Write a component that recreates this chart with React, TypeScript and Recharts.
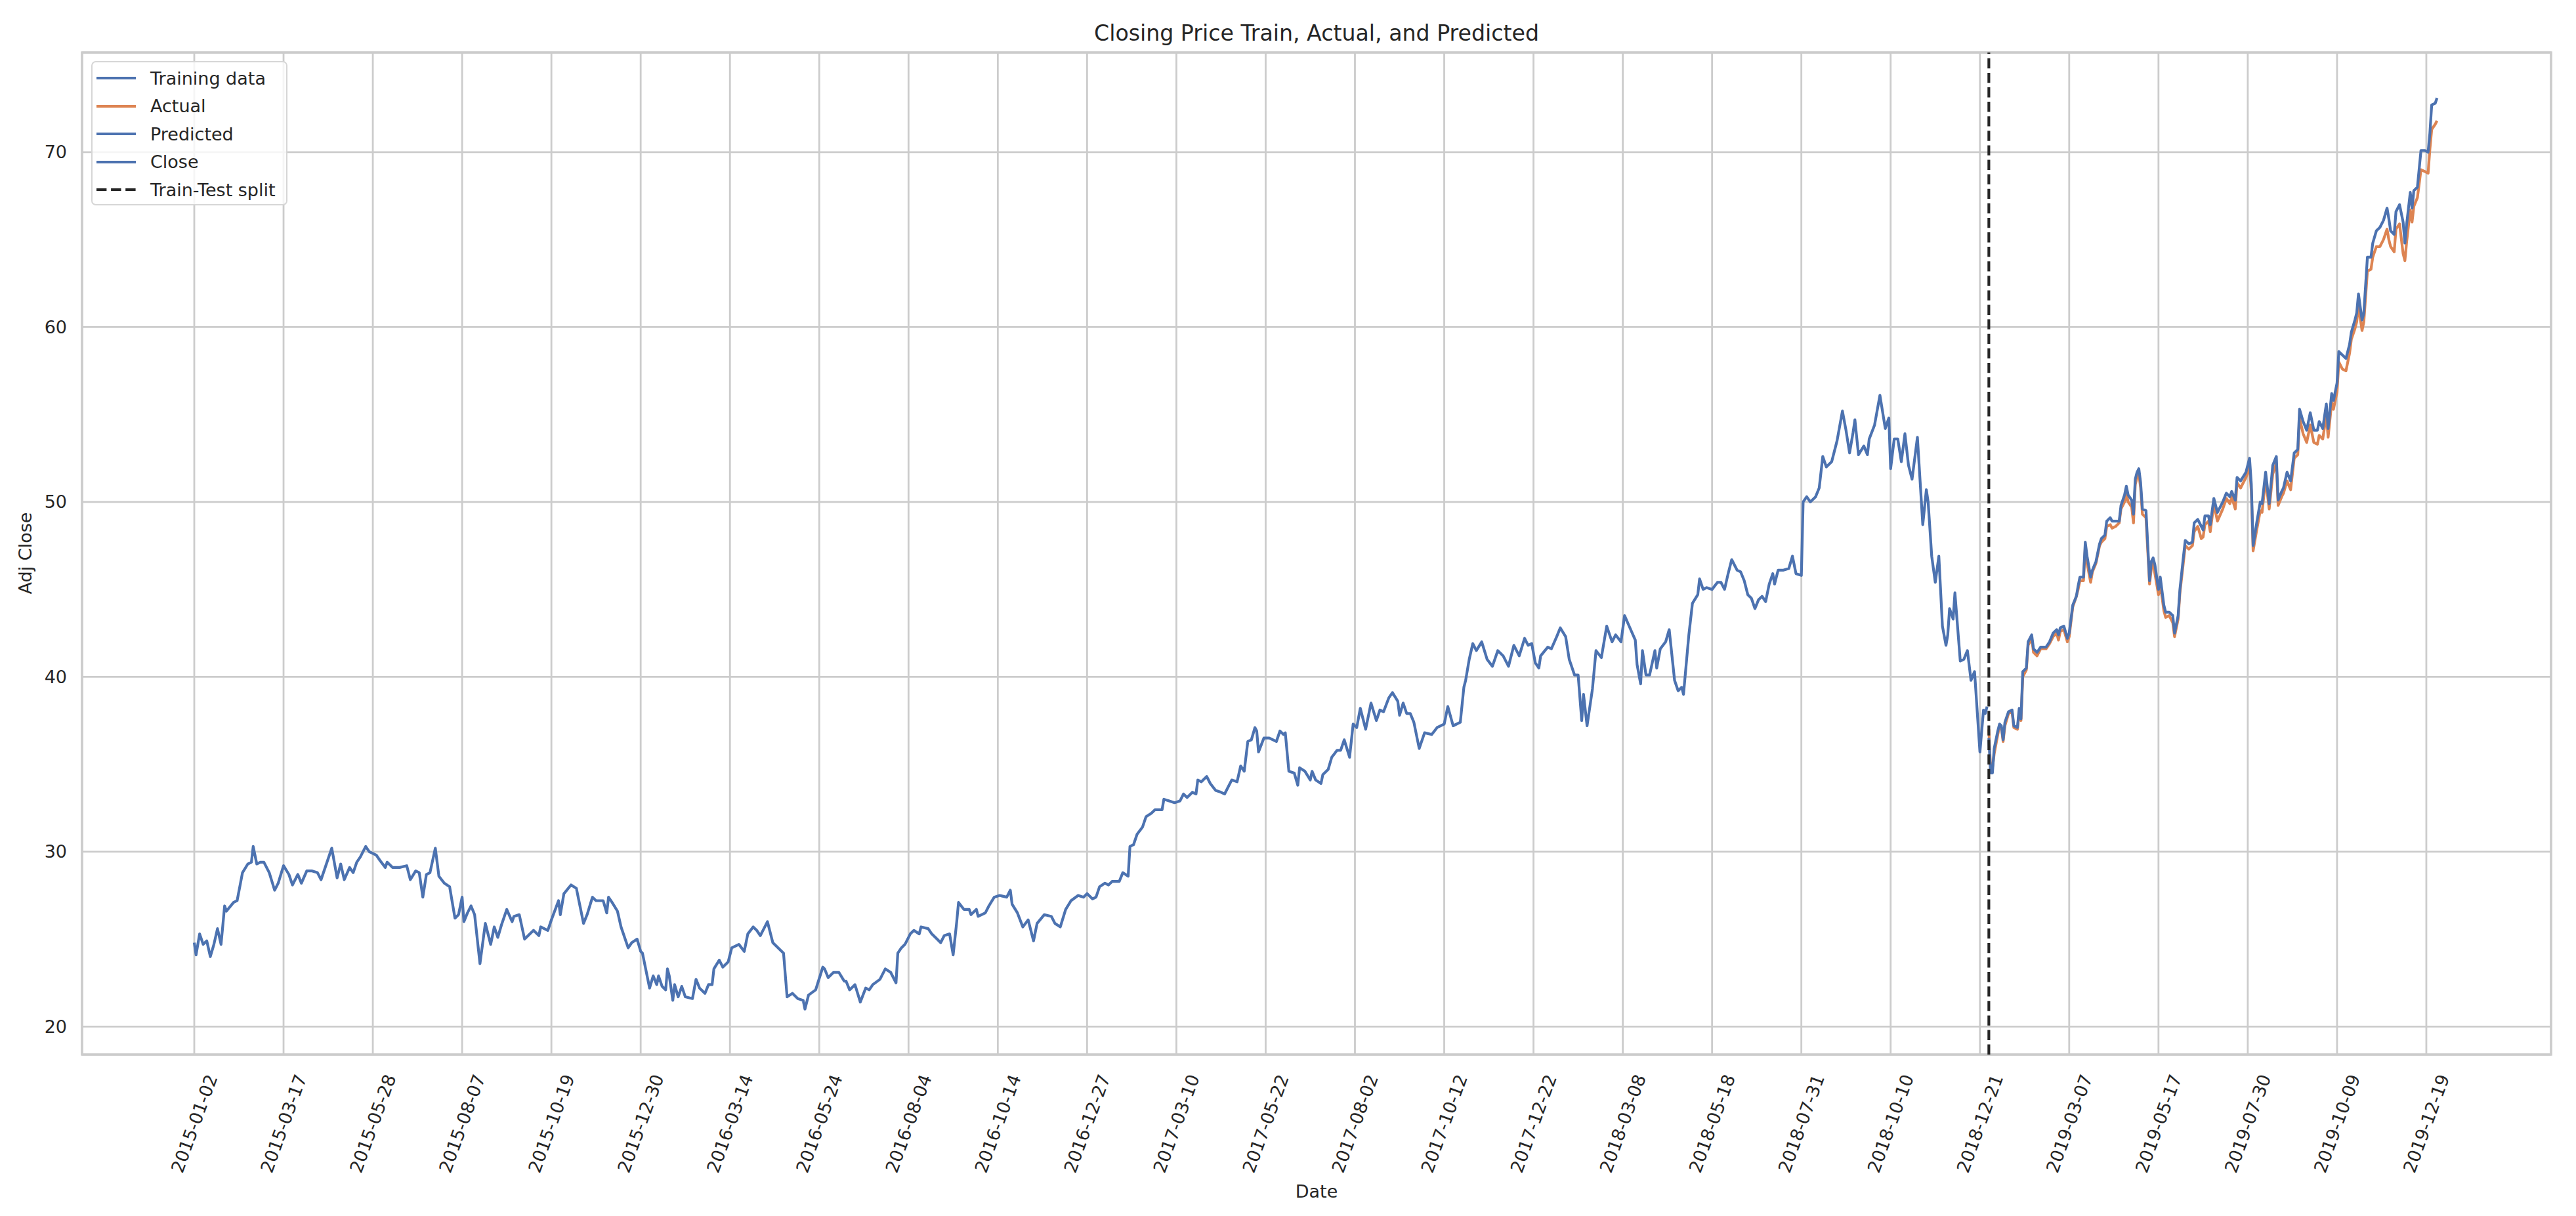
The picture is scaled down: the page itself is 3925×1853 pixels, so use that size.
import React from "react";
import {
  CartesianGrid,
  Line,
  LineChart,
  ReferenceArea,
  ReferenceLine,
  XAxis,
  YAxis,
} from "recharts";

// trading-day index -> close
const trainingData: [number, number][] = [
  [0, 24.8], [1, 24.1], [3, 25.3], [5, 24.7], [7, 24.9], [9, 24.0], [11, 24.7], [13, 25.6], [15, 24.7],
  [17, 26.9], [18, 26.6], [22, 27.1], [24, 27.2], [27, 28.8], [30, 29.3], [32, 29.4], [33, 30.3], [35, 29.3],
  [37, 29.4], [39, 29.4], [42, 28.8], [45, 27.8], [47, 28.2], [50, 29.2], [53, 28.7], [55, 28.1], [58, 28.7],
  [60, 28.2], [63, 28.9], [66, 28.9], [69, 28.8], [71, 28.4], [73, 29.0], [77, 30.2], [80, 28.5], [82, 29.3],
  [84, 28.4], [87, 29.1], [89, 28.8], [91, 29.4], [93, 29.7], [96, 30.3], [98, 30.0], [102, 29.8], [104, 29.5],
  [107, 29.1], [108, 29.4], [111, 29.1], [115, 29.1], [119, 29.2], [121, 28.4], [124, 28.9], [126, 28.8],
  [128, 27.4], [130, 28.7], [132, 28.8], [135, 30.2], [137, 28.6], [140, 28.2], [143, 28.0], [146, 26.2],
  [148, 26.4], [150, 27.4], [151, 26.0], [153, 26.5], [155, 26.9], [157, 26.4], [160, 23.6], [163, 25.9],
  [166, 24.7], [168, 25.7], [170, 25.1], [172, 25.8], [175, 26.7], [178, 26.0], [179, 26.3], [182, 26.4],
  [185, 25.0], [188, 25.3], [190, 25.5], [193, 25.2], [194, 25.7], [198, 25.5], [200, 26.1], [204, 27.2],
  [205, 26.4], [207, 27.6], [211, 28.1], [214, 27.9], [216, 26.9], [218, 25.9], [220, 26.4], [223, 27.4],
  [225, 27.2], [229, 27.2], [231, 26.5], [232, 27.4], [234, 27.1], [237, 26.6], [239, 25.7], [243, 24.5],
  [245, 24.8], [248, 25.0], [250, 24.3], [251, 24.2], [255, 22.2], [257, 22.9], [259, 22.4], [260, 22.9],
  [262, 22.3], [264, 22.1], [265, 23.3], [266, 22.9], [268, 21.5], [269, 22.4], [271, 21.7], [273, 22.3],
  [275, 21.7], [279, 21.6], [281, 22.7], [283, 22.2], [286, 21.9], [288, 22.4], [290, 22.4], [291, 23.3],
  [294, 23.8], [296, 23.4], [299, 23.7], [301, 24.5], [305, 24.7], [308, 24.3], [310, 25.3], [313, 25.7],
  [315, 25.5], [317, 25.2], [319, 25.6], [321, 26.0], [324, 24.8], [327, 24.5], [330, 24.2], [332, 21.7],
  [335, 21.9], [338, 21.6], [341, 21.5], [342, 21.0], [344, 21.8], [348, 22.1], [352, 23.4], [353, 23.3],
  [355, 22.8], [358, 23.1], [361, 23.1], [364, 22.6], [365, 22.6], [367, 22.1], [370, 22.4], [373, 21.4],
  [376, 22.2], [378, 22.1], [380, 22.4], [384, 22.7], [387, 23.3], [390, 23.1], [393, 22.5], [394, 24.2],
  [396, 24.5], [398, 24.7], [401, 25.3], [403, 25.5], [406, 25.3], [407, 25.7], [411, 25.6], [413, 25.3],
  [416, 25.0], [418, 24.8], [420, 25.2], [423, 25.3], [425, 24.1], [427, 26.0], [428, 27.1], [431, 26.7],
  [434, 26.7], [435, 26.4], [438, 26.7], [439, 26.3], [443, 26.5], [445, 26.9], [448, 27.4], [451, 27.5],
  [455, 27.4], [457, 27.8], [458, 27.0], [461, 26.5], [464, 25.7], [467, 26.1], [470, 24.9], [472, 25.9],
  [476, 26.4], [480, 26.3], [482, 25.9], [485, 25.7], [488, 26.7], [491, 27.2], [495, 27.5], [498, 27.4],
  [500, 27.6], [503, 27.3], [505, 27.4], [507, 28.0], [510, 28.2], [512, 28.1], [514, 28.3], [518, 28.3],
  [520, 28.8], [523, 28.6], [524, 30.3], [526, 30.4], [528, 31.0], [531, 31.4], [533, 32.0], [536, 32.2],
  [538, 32.4], [542, 32.4], [543, 33.0], [546, 32.9], [549, 32.8], [552, 32.9], [554, 33.3], [556, 33.1],
  [559, 33.4], [561, 33.3], [562, 34.1], [564, 34.0], [567, 34.3], [569, 33.9], [572, 33.5], [575, 33.4],
  [577, 33.3], [579, 33.7], [581, 34.1], [584, 34.0], [586, 34.9], [588, 34.6], [590, 36.3], [592, 36.4],
  [594, 37.1], [595, 36.9], [596, 35.7], [599, 36.5], [602, 36.5], [606, 36.3], [608, 36.9], [610, 36.7],
  [611, 36.8], [613, 34.6], [616, 34.5], [618, 33.8], [619, 34.8], [622, 34.6], [625, 34.1], [626, 34.6],
  [628, 34.1], [631, 33.9], [632, 34.4], [635, 34.7], [637, 35.4], [640, 35.8], [642, 35.8], [644, 36.4],
  [647, 35.4], [649, 37.3], [651, 37.1], [653, 38.2], [656, 37.0], [659, 38.5], [662, 37.5], [664, 38.1],
  [666, 38.0], [669, 38.8], [671, 39.1], [674, 38.6], [675, 37.8], [677, 38.5], [679, 37.9], [681, 37.9],
  [683, 37.4], [686, 35.9], [689, 36.8], [693, 36.7], [696, 37.1], [700, 37.3], [702, 38.3], [705, 37.2],
  [709, 37.4], [711, 39.4], [712, 39.8], [714, 41.0], [716, 41.9], [718, 41.5], [721, 42.0], [724, 41.0],
  [727, 40.6], [730, 41.5], [733, 41.2], [736, 40.6], [739, 41.8], [742, 41.2], [745, 42.2], [747, 41.8],
  [749, 41.9], [751, 40.8], [753, 40.5], [754, 41.2], [758, 41.7], [760, 41.6], [763, 42.3], [765, 42.8],
  [768, 42.3], [770, 41.0], [773, 40.1], [775, 40.1], [777, 37.5], [778, 39.0], [780, 37.2], [783, 39.3],
  [785, 41.5], [788, 41.1], [791, 42.9], [794, 42.0], [796, 42.4], [799, 42.0], [801, 43.5], [804, 42.8],
  [807, 42.1], [808, 40.7], [810, 39.6], [811, 41.5], [813, 40.1], [815, 40.1], [818, 41.5], [819, 40.5],
  [821, 41.6], [824, 42.0], [826, 42.7], [829, 39.8], [831, 39.2], [833, 39.4], [834, 39.0], [837, 42.4],
  [839, 44.2], [842, 44.7], [843, 45.6], [845, 45.0], [847, 45.1], [850, 45.0], [853, 45.4], [855, 45.4],
  [857, 45.0], [859, 45.9], [861, 46.7], [864, 46.1], [866, 46.0], [868, 45.5], [870, 44.7], [872, 44.5],
  [874, 43.9], [876, 44.4], [878, 44.6], [880, 44.3], [882, 45.3], [884, 45.9], [885, 45.3], [887, 46.1],
  [890, 46.1], [893, 46.2], [895, 46.9], [897, 45.9], [900, 45.8], [901, 50.0], [903, 50.3], [905, 50.0],
  [908, 50.3], [910, 50.8], [912, 52.6], [914, 52.0], [917, 52.3], [920, 53.5], [923, 55.2], [925, 54.1],
  [927, 52.8], [929, 54.0], [930, 54.7], [932, 52.7], [935, 53.2], [937, 52.7], [938, 53.6], [941, 54.4],
  [944, 56.1], [947, 54.2], [949, 54.8], [950, 51.9], [952, 53.6], [954, 53.6], [956, 52.3], [958, 53.9],
  [960, 52.1], [962, 51.3], [965, 53.7], [968, 48.7], [970, 50.7], [971, 50.0], [973, 46.9], [975, 45.4],
  [977, 46.9], [979, 42.9], [981, 41.8], [982, 42.4], [983, 43.9], [985, 43.3], [986, 44.8], [989, 40.9],
  [991, 41.0], [993, 41.5], [995, 39.8], [997, 40.3], [1000, 35.7], [1002, 38.1], [1003, 37.9], [1004, 38.3],
];

const actualData: [number, number][] = [
  [1005, 37.0], [1006, 34.6], [1007, 34.8], [1008, 35.6], [1010, 36.7], [1011, 37.2], [1012, 37.1], [1013, 36.3],
  [1014, 37.2], [1016, 37.9], [1018, 38.0], [1019, 37.1], [1021, 37.0], [1022, 38.0], [1023, 37.5], [1024, 40.0],
  [1026, 40.4], [1027, 41.8], [1029, 42.2], [1030, 41.4], [1032, 41.2], [1034, 41.6], [1037, 41.6], [1039, 41.9],
  [1041, 42.3], [1043, 42.5], [1044, 42.1], [1045, 42.6], [1047, 42.7], [1049, 42.0], [1050, 42.3], [1052, 44.0],
  [1054, 44.6], [1055, 45.0], [1056, 45.5], [1058, 45.5], [1059, 47.4], [1060, 46.5], [1062, 45.4], [1063, 46.0],
  [1065, 46.5], [1067, 47.5], [1068, 47.7], [1070, 47.9], [1071, 48.6], [1073, 48.7], [1074, 48.5], [1076, 48.6],
  [1078, 48.8], [1079, 49.6], [1081, 50.0], [1082, 50.5], [1083, 50.0], [1085, 49.7], [1086, 48.8], [1087, 51.0],
  [1088, 51.4], [1089, 51.6], [1090, 50.8], [1091, 49.3], [1093, 49.1], [1095, 45.3], [1096, 46.2], [1097, 46.5],
  [1098, 45.9], [1100, 44.7], [1101, 45.3], [1103, 43.8], [1104, 43.4], [1106, 43.5], [1108, 43.1], [1109, 42.3],
  [1111, 43.3], [1112, 44.8], [1114, 46.6], [1115, 47.5], [1117, 47.3], [1119, 47.5], [1120, 48.3], [1122, 48.6],
  [1124, 47.9], [1125, 48.0], [1126, 48.7], [1128, 48.9], [1129, 48.3], [1131, 49.9], [1133, 48.9], [1136, 49.6],
  [1138, 50.2], [1140, 49.9], [1141, 50.3], [1143, 49.6], [1144, 51.1], [1146, 50.8], [1149, 51.4], [1151, 52.0],
  [1152, 50.6], [1153, 47.2], [1155, 48.4], [1157, 49.5], [1158, 49.4], [1160, 51.3], [1162, 49.6], [1164, 51.6],
  [1166, 52.2], [1167, 49.8], [1169, 50.3], [1170, 50.5], [1172, 51.2], [1174, 50.7], [1176, 52.5], [1178, 52.7],
  [1179, 54.8], [1181, 53.9], [1183, 53.4], [1185, 54.4], [1187, 53.4], [1189, 53.3], [1190, 53.8], [1192, 53.6],
  [1194, 55.0], [1195, 53.7], [1197, 55.7], [1198, 55.3], [1200, 56.3], [1201, 58.0], [1203, 57.6], [1205, 57.5],
  [1207, 58.5], [1208, 59.3], [1210, 59.9], [1211, 60.3], [1212, 61.2], [1214, 59.8], [1215, 60.3], [1217, 63.2],
  [1219, 63.3], [1220, 64.0], [1222, 64.6], [1224, 64.6], [1226, 65.0], [1228, 65.6], [1229, 65.0], [1230, 64.6],
  [1232, 64.3], [1233, 65.6], [1235, 65.9], [1237, 64.2], [1238, 63.8], [1239, 64.9], [1241, 66.7], [1242, 66.0],
  [1243, 66.9], [1245, 67.4], [1247, 69.0], [1249, 68.9], [1251, 68.8], [1252, 70.2], [1253, 71.3], [1255, 71.6],
  [1256, 71.8],
];

const predictedData: [number, number][] = [
  [1005, 36.5], [1006, 34.5], [1007, 34.5], [1008, 35.9], [1010, 36.9], [1011, 37.3], [1012, 37.2], [1013, 36.4],
  [1014, 37.4], [1016, 38.0], [1018, 38.1], [1019, 37.2], [1021, 37.1], [1022, 38.2], [1023, 37.6], [1024, 40.3],
  [1026, 40.5], [1027, 42.0], [1029, 42.4], [1030, 41.6], [1032, 41.4], [1034, 41.7], [1037, 41.7], [1039, 42.0],
  [1041, 42.5], [1043, 42.7], [1044, 42.4], [1045, 42.8], [1047, 42.9], [1049, 42.2], [1050, 42.5], [1052, 44.1],
  [1054, 44.6], [1055, 45.2], [1056, 45.7], [1058, 45.7], [1059, 47.7], [1060, 46.9], [1062, 45.7], [1063, 46.1],
  [1065, 46.6], [1067, 47.6], [1068, 47.9], [1070, 48.1], [1071, 48.9], [1073, 49.1], [1074, 48.9], [1076, 48.9],
  [1078, 48.9], [1079, 49.8], [1081, 50.4], [1082, 50.9], [1083, 50.4], [1085, 50.1], [1086, 49.3], [1087, 51.3],
  [1088, 51.7], [1089, 51.9], [1090, 51.1], [1091, 49.6], [1093, 49.5], [1095, 45.5], [1096, 46.6], [1097, 46.8],
  [1098, 46.4], [1100, 45.0], [1101, 45.7], [1103, 44.1], [1104, 43.7], [1106, 43.7], [1108, 43.5], [1109, 42.5],
  [1111, 43.5], [1112, 45.0], [1114, 46.9], [1115, 47.8], [1117, 47.6], [1119, 47.7], [1120, 48.8], [1122, 49.0],
  [1124, 48.6], [1125, 48.4], [1126, 49.2], [1128, 49.2], [1129, 48.7], [1131, 50.2], [1133, 49.4], [1136, 50.0],
  [1138, 50.5], [1140, 50.3], [1141, 50.6], [1143, 50.1], [1144, 51.4], [1146, 51.2], [1149, 51.7], [1151, 52.5],
  [1152, 51.0], [1153, 47.5], [1155, 48.8], [1157, 50.0], [1158, 49.9], [1160, 51.7], [1162, 49.9], [1164, 52.1],
  [1166, 52.6], [1167, 50.1], [1169, 50.6], [1170, 50.8], [1172, 51.7], [1174, 51.2], [1176, 52.8], [1178, 53.0],
  [1179, 55.3], [1181, 54.6], [1183, 54.1], [1185, 55.1], [1187, 54.1], [1189, 54.1], [1190, 54.6], [1192, 54.2],
  [1194, 55.6], [1195, 54.2], [1197, 56.2], [1198, 55.8], [1200, 56.8], [1201, 58.6], [1203, 58.4], [1205, 58.2],
  [1207, 59.0], [1208, 59.7], [1210, 60.4], [1211, 60.8], [1212, 61.9], [1214, 60.4], [1215, 60.8], [1217, 64.0],
  [1219, 64.0], [1220, 64.8], [1222, 65.5], [1224, 65.7], [1226, 66.1], [1228, 66.8], [1229, 66.2], [1230, 65.5],
  [1232, 65.3], [1233, 66.6], [1235, 67.0], [1237, 66.0], [1238, 64.8], [1239, 65.9], [1241, 67.7], [1242, 66.8],
  [1243, 67.8], [1245, 68.0], [1247, 70.1], [1249, 70.1], [1251, 70.0], [1252, 71.1], [1253, 72.7], [1255, 72.8],
  [1256, 73.1],
];

const splitDay = 1005;

const tickDays = [
  0, 50, 100, 150, 200, 250, 300, 350, 400, 450, 500, 550, 600, 650, 700, 750, 800, 850, 900, 950, 1000,
  1050, 1100, 1150, 1200, 1250,
];
const tickLabels = [
  "2015-01-02", "2015-03-17", "2015-05-28", "2015-08-07", "2015-10-19", "2015-12-30", "2016-03-14",
  "2016-05-24", "2016-08-04", "2016-10-14", "2016-12-27", "2017-03-10", "2017-05-22", "2017-08-02",
  "2017-10-12", "2017-12-22", "2018-03-08", "2018-05-18", "2018-07-31", "2018-10-10", "2018-12-21",
  "2019-03-07", "2019-05-17", "2019-07-30", "2019-10-09", "2019-12-19",
];
const yTicks = [20, 30, 40, 50, 60, 70];

const legendItems = [
  { name: "Training data", color: "#4c72b0", dash: false },
  { name: "Actual", color: "#dd8452", dash: false },
  { name: "Predicted", color: "#4c72b0", dash: false },
  { name: "Close", color: "#4c72b0", dash: false },
  { name: "Train-Test split", color: "#262626", dash: true },
];

const toRows = (pts: [number, number][]) => pts.map(([i, v]) => ({ i, v }));

const W = 3925;
const H = 1853;
const FONT = "DejaVu Sans";
const TEXT = "#262626";
const X_DOMAIN = [-62.85, 1319.85];
const Y_DOMAIN = [18.4, 75.7];

const DateTick = (props: any) => {
  const { x, y, payload } = props;
  const k = tickDays.indexOf(payload.value);
  const cy = y + 105;
  return (
    <text
      x={x}
      y={cy}
      transform={`rotate(-70, ${x}, ${cy})`}
      textAnchor="middle"
      dominantBaseline="central"
      fontSize={27}
      fontFamily={FONT}
      fill={TEXT}
    >
      {k >= 0 ? tickLabels[k] : ""}
    </text>
  );
};

const Legendbox = () => (
  <div
    style={{
      position: "absolute",
      left: 139,
      top: 93,
      width: 299,
      height: 220,
      boxSizing: "border-box",
      border: "2.5px solid #d6d6d6",
      borderRadius: 7,
      background: "rgba(255,255,255,0.8)",
      paddingTop: 3,
      fontFamily: FONT,
      fontSize: 27,
      color: TEXT,
    }}
  >
    {legendItems.map((it) => (
      <div key={it.name} style={{ display: "flex", alignItems: "center", height: 42.5 }}>
        <svg width={82} height={20} style={{ marginLeft: 6, flex: "none" }}>
          <line
            x1={0}
            x2={60}
            y1={10}
            y2={10}
            stroke={it.color}
            strokeWidth={4.2}
            strokeDasharray={it.dash ? "15.4 6.7" : undefined}
          />
        </svg>
        <span style={{ whiteSpace: "nowrap" }}>{it.name}</span>
      </div>
    ))}
  </div>
);

export default function App() {
  return (
    <div style={{ position: "absolute", left: 0, top: 0, width: W, height: H, background: "#fff" }}>
      <div
        style={{
          position: "absolute",
          left: 125,
          width: 3762,
          top: 34,
          textAlign: "center",
          fontFamily: FONT,
          fontSize: 33.2,
          lineHeight: "33.2px",
          color: TEXT,
        }}
      >
        Closing Price Train, Actual, and Predicted
      </div>
      <LineChart width={W} height={H} margin={{ top: 80, right: 38, bottom: 0, left: 0 }}>
        <CartesianGrid stroke="#cccccc" strokeWidth={2.8} />
        <XAxis
          dataKey="i"
          type="number"
          domain={X_DOMAIN}
          allowDataOverflow
          ticks={tickDays}
          interval={0}
          height={246}
          tickLine={false}
          axisLine={false}
          tickSize={0}
          tickMargin={0}
          tick={<DateTick />}
          label={() => (
            <text
              x={2006}
              y={1815}
              textAnchor="middle"
              dominantBaseline="central"
              fontSize={27}
              fontFamily={FONT}
              fill={TEXT}
            >
              Date
            </text>
          )}
        />
        <YAxis
          type="number"
          domain={Y_DOMAIN}
          allowDataOverflow
          ticks={yTicks}
          interval={0}
          width={125}
          tickLine={false}
          axisLine={false}
          tickSize={0}
          tickMargin={23}
          tick={{ fontSize: 27, fill: TEXT, fontFamily: FONT }}
          label={() => (
            <text
              x={38}
              y={843}
              transform="rotate(-90, 38, 843)"
              textAnchor="middle"
              dominantBaseline="central"
              fontSize={27}
              fontFamily={FONT}
              fill={TEXT}
            >
              Adj Close
            </text>
          )}
        />
        <ReferenceArea
          x1={X_DOMAIN[0]}
          x2={X_DOMAIN[1]}
          y1={Y_DOMAIN[0]}
          y2={Y_DOMAIN[1]}
          fill="none"
          stroke="#cccccc"
          strokeWidth={3.5}
          ifOverflow="visible"
        />
        <Line
          data={toRows(trainingData)}
          dataKey="v"
          name="Training data"
          stroke="#4c72b0"
          strokeWidth={4.2}
          strokeLinejoin="round"
          dot={false}
          activeDot={false}
          isAnimationActive={false}
        />
        <Line
          data={toRows(actualData)}
          dataKey="v"
          name="Actual"
          stroke="#dd8452"
          strokeWidth={4.2}
          strokeLinejoin="round"
          dot={false}
          activeDot={false}
          isAnimationActive={false}
        />
        <Line
          data={toRows(predictedData)}
          dataKey="v"
          name="Predicted"
          stroke="#4c72b0"
          strokeWidth={4.2}
          strokeLinejoin="round"
          dot={false}
          activeDot={false}
          isAnimationActive={false}
        />
        <ReferenceLine x={splitDay} stroke="#262626" strokeWidth={4.2} strokeDasharray="15.4 6.7" />
      </LineChart>
      <Legendbox />
    </div>
  );
}
